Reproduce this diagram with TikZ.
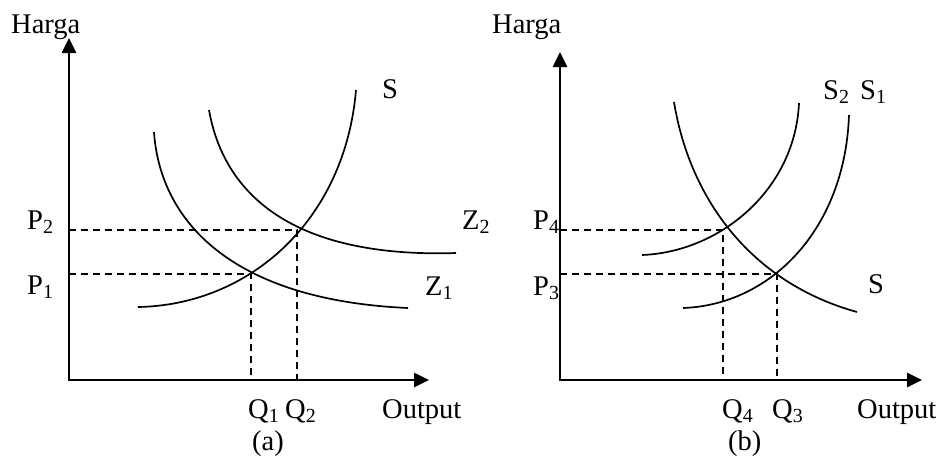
\documentclass[tikz,border=0pt]{standalone}
\usepackage{fontspec}
\setmainfont{Liberation Serif}
\usetikzlibrary{arrows.meta}
\newcommand{\sbs}[1]{\textsubscript{#1}}
\begin{document}
\begin{tikzpicture}[x=1pt,y=-1pt,
  axis/.style={line width=2.6pt,-{Triangle[length=15pt,width=14pt]}},
  curve/.style={line width=1.7pt},
  guide/.style={line width=1.5pt,dash pattern=on 7pt off 5pt},
  lbl/.style={font=\fontsize{28.5}{30}\selectfont,inner sep=0pt,anchor=base west}]
\fill[white] (0,0) rectangle (940,459);
\useasboundingbox (0,0) rectangle (940,459);

% ---------- panel (a) ----------
\coordinate (Oa) at (69,380);
\coordinate (Ya) at (69,38);
\coordinate (Xa) at (429,380);
\draw[axis] (Oa) -- (Ya);
\draw[axis] ([xshift=-1.3pt]Oa) -- (Xa);

\coordinate (E1) at (251,274);
\coordinate (E2) at (297,230);
\coordinate (P1a) at (69,274);
\coordinate (P2a) at (69,230);
\coordinate (Q1a) at (251,380);
\coordinate (Q2a) at (297,380);
\draw[guide] (P2a) -- (E2) -- (Q2a);
\draw[guide] (P1a) -- (E1) -- (Q1a);

% S
\draw[curve] (138,307) .. controls (250,305) and (345,220) .. (356,90);
% Z1
\draw[curve] (154,132) .. controls (160,220) and (230,300) .. (408,308);
% Z2
\draw[curve] (209,110) .. controls (225,200) and (300,258) .. (456,253);

\node[lbl] (harga-a) at (11,33) {Harga};
\node[lbl] (s-a) at (382,98) {S};
\node[lbl] (p2) at (27,229) {P\sbs{2}};
\node[lbl] (p1) at (27,294) {P\sbs{1}};
\node[lbl] (z2) at (462,229) {Z\sbs{2}};
\node[lbl] (z1) at (425,295) {Z\sbs{1}};
\node[lbl] (q1) at (248,418) {Q\sbs{1}};
\node[lbl] (q2) at (285,418) {Q\sbs{2}};
\node[lbl] (out-a) at (382,418) {Output};
\node[lbl] (cap-a) at (252,450) {(a)};

% ---------- panel (b) ----------
\coordinate (Ob) at (560,380);
\coordinate (Yb) at (560,52);
\coordinate (Xb) at (922,380);
\draw[axis] (Ob) -- (Yb);
\draw[axis] ([xshift=-1.3pt]Ob) -- (Xb);

\coordinate (E4) at (723,230);
\coordinate (E3) at (777,274);
\coordinate (P4b) at (560,230);
\coordinate (P3b) at (560,274);
\coordinate (Q4b) at (723,380);
\coordinate (Q3b) at (777,380);
\draw[guide] (P4b) -- (E4) -- (Q4b);
\draw[guide] (P3b) -- (E3) -- (Q3b);

% demand S
\draw[curve] (674,102) .. controls (690,200) and (752,283) .. (857,312);
% S2
\draw[curve] (642,255) .. controls (720,252) and (795,190) .. (799,103);
% S1
\draw[curve] (683,308) .. controls (770,305) and (845,230) .. (849,115);

\node[lbl] (harga-b) at (492,33) {Harga};
\node[lbl] (s2) at (823,99) {S\sbs{2}};
\node[lbl] (s1) at (860,99) {S\sbs{1}};
\node[lbl] (p4) at (533,229) {P\sbs{4}};
\node[lbl] (p3) at (533,295) {P\sbs{3}};
\node[lbl] (s-b) at (868,293) {S};
\node[lbl] (q4) at (722,418) {Q\sbs{4}};
\node[lbl] (q3) at (772,418) {Q\sbs{3}};
\node[lbl] (out-b) at (857,418) {Output};
\node[lbl] (cap-b) at (728,450) {(b)};
\end{tikzpicture}
\end{document}
